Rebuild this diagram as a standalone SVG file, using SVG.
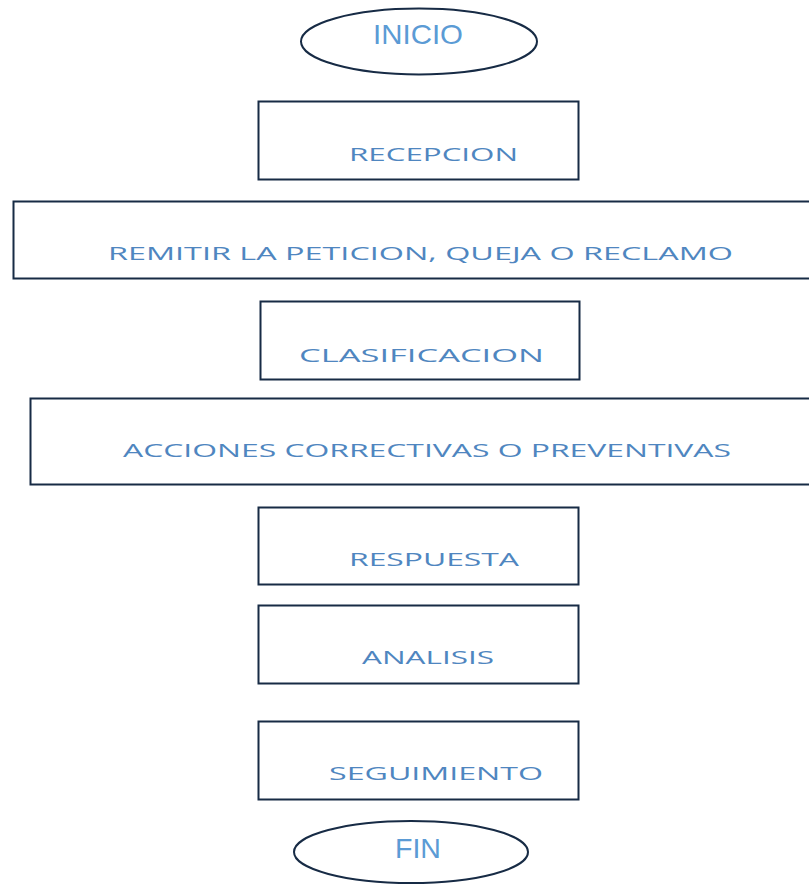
<svg xmlns="http://www.w3.org/2000/svg" width="809" height="884" viewBox="0 0 809 884">
<style>
.shape{fill:#ffffff;stroke:#172b45;stroke-width:2}
.t{font-family:"Open Sans","Liberation Sans",sans-serif;fill:#4f86c0;font-size:19px}
.e{font-family:"Liberation Sans Narrow","Liberation Sans",sans-serif;fill:#5b9bd5;font-size:28px}
</style>
<rect width="809" height="884" fill="#ffffff"/>
<g id="inicio">
<ellipse class="shape" cx="419" cy="41.5" rx="118" ry="33"/>
<text class="e" x="373" y="44" textLength="90" lengthAdjust="spacingAndGlyphs">INICIO</text>
</g>
<g id="recepcion">
<rect class="shape" x="258.5" y="101.5" width="320" height="78"/>
<text class="t" x="349" y="161" textLength="169" lengthAdjust="spacingAndGlyphs">RECEPCION</text>
</g>
<g id="remitir">
<rect class="shape" x="13.5" y="201.5" width="810" height="77"/>
<text class="t" x="108" y="260" textLength="625" lengthAdjust="spacingAndGlyphs">REMITIR LA PETICION, QUEJA O RECLAMO</text>
</g>
<g id="clasificacion">
<rect class="shape" x="260.5" y="301.5" width="319" height="78"/>
<text class="t" x="299" y="362" textLength="245" lengthAdjust="spacingAndGlyphs">CLASIFICACION</text>
</g>
<g id="acciones">
<rect class="shape" x="30.5" y="398.5" width="800" height="86"/>
<text class="t" x="123" y="457" textLength="608" lengthAdjust="spacingAndGlyphs">ACCIONES CORRECTIVAS O PREVENTIVAS</text>
</g>
<g id="respuesta">
<rect class="shape" x="258.5" y="507.5" width="320" height="77"/>
<text class="t" x="349" y="566" textLength="170" lengthAdjust="spacingAndGlyphs">RESPUESTA</text>
</g>
<g id="analisis">
<rect class="shape" x="258.5" y="605.5" width="320" height="78"/>
<text class="t" x="362" y="664" textLength="132" lengthAdjust="spacingAndGlyphs">ANALISIS</text>
</g>
<g id="seguimiento">
<rect class="shape" x="258.5" y="721.5" width="320" height="78"/>
<text class="t" x="329" y="780" textLength="214" lengthAdjust="spacingAndGlyphs">SEGUIMIENTO</text>
</g>
<g id="fin">
<ellipse class="shape" cx="411" cy="852" rx="117" ry="31"/>
<text class="e" x="395" y="858" textLength="46" lengthAdjust="spacingAndGlyphs">FIN</text>
</g>
<g id="connectors"></g>
</svg>
